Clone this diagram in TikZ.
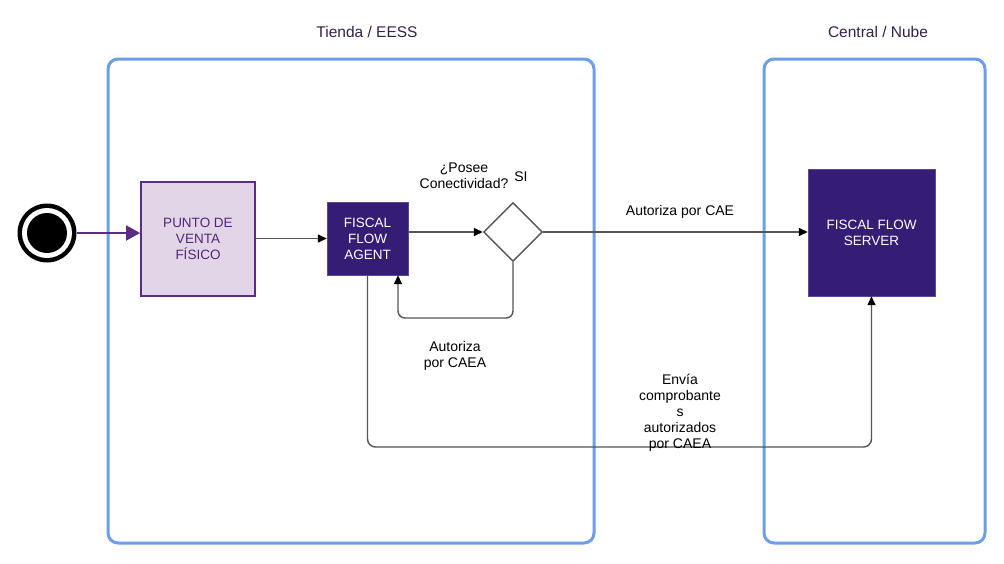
\documentclass[tikz,border=0pt]{standalone}
\usepackage{fontspec}
\setmainfont{Liberation Sans}
\usetikzlibrary{arrows.meta,shapes.geometric}
\definecolor{poolblue}{HTML}{6D9EEB}
\definecolor{titlepurple}{HTML}{33204D}
\definecolor{darknode}{HTML}{351C75}
\definecolor{lightfill}{HTML}{E1D5E7}
\definecolor{lightborder}{HTML}{5B2C83}
\definecolor{conncol}{HTML}{555555}
\begin{document}
\begin{tikzpicture}[x=1pt,y=-1pt,
  pool/.style={draw=poolblue,line width=3pt,rounded corners=10pt},
  title/.style={text=titlepurple,font=\fontsize{15.5}{18}\selectfont,inner sep=0pt},
  lbl/.style={text=black,font=\fontsize{14}{16}\selectfont,align=center,inner sep=0pt},
  darkbox/.style={draw=darknode!80!white,fill=darknode,text=white,font=\fontsize{13.5}{16}\selectfont,align=center,inner sep=0pt},
  lightbox/.style={draw=lightborder,line width=1.8pt,fill=lightfill,text=lightborder!90!black,font=\fontsize{13.5}{16}\selectfont,align=center,inner sep=0pt},
  conn/.style={draw=conncol,line width=1.4pt,-{Triangle[length=9pt,width=8pt,fill=black,color=black]}},
]
\useasboundingbox (0,0) rectangle (1004,563);
\fill[white] (0,0) rectangle (1004,563);
% pools
\draw[pool] (108,59) rectangle (594,543);
\draw[pool] (764,59) rectangle (985,543);
\node[title] (t1) at (367,32) {Tienda / EESS};
\node[title] (t2) at (878,32) {Central / Nube};
% start
\node[circle,fill=black,minimum size=59pt,inner sep=0pt] (start) at (47,233) {};
\node[circle,fill=white,minimum size=50pt,inner sep=0pt] (startw) at (47,233) {};
\node[circle,fill=black,minimum size=40pt,inner sep=0pt] (startin) at (47,233) {};
% nodes
\node[lightbox,minimum width=114pt,minimum height=114pt] (pos) at (198,239) {PUNTO DE\\VENTA\\FÍSICO};
\node[darkbox,minimum width=81pt,minimum height=73pt] (agent) at (367.5,238.5) {FISCAL\\FLOW\\AGENT};
\node[diamond,draw=conncol,line width=1.4pt,fill=white,aspect=1,minimum width=59pt,minimum height=59pt,inner sep=0pt] (dia) at (513,232) {};
\node[darkbox,minimum width=127pt,minimum height=127pt] (server) at (871.5,232.5) {FISCAL FLOW\\SERVER};
% connectors
\draw[draw=lightborder,line width=2pt,-{Triangle[length=14pt,width=15pt]}] (start.east) -- (pos.west |- start.east);
\draw[conn] (pos.east |- agent.west) -- (agent.west);
\coordinate (ae) at (408,232);
\draw[conn] (ae) -- (dia.west);
\draw[conn] (dia.east) -- (server.west |- dia.east);
\coordinate (l1) at (513,318);
\coordinate (l2) at (398,318);
\draw[conn,rounded corners=7pt] (dia.south) -- (l1) -- (l2) -- (l2 |- agent.south);
\coordinate (b1) at (367.5,447);
\coordinate (b2) at (871.5,447);
\draw[conn,rounded corners=8pt] (agent.south) -- (b1) -- (b2) -- (server.south);
% labels
\node[lbl] (q) at (464,176) {¿Posee\\Conectividad?};
\node[lbl] (si) at (521,177) {SI};
\node[lbl] (cae) at (680,212) {Autoriza por CAE};
\node[lbl] (caea) at (455,356) {Autoriza\\por CAEA};
\node[lbl] (env) at (680,413) {Envía\\comprobante\\s\\autorizados\\por CAEA};
\end{tikzpicture}
\end{document}
